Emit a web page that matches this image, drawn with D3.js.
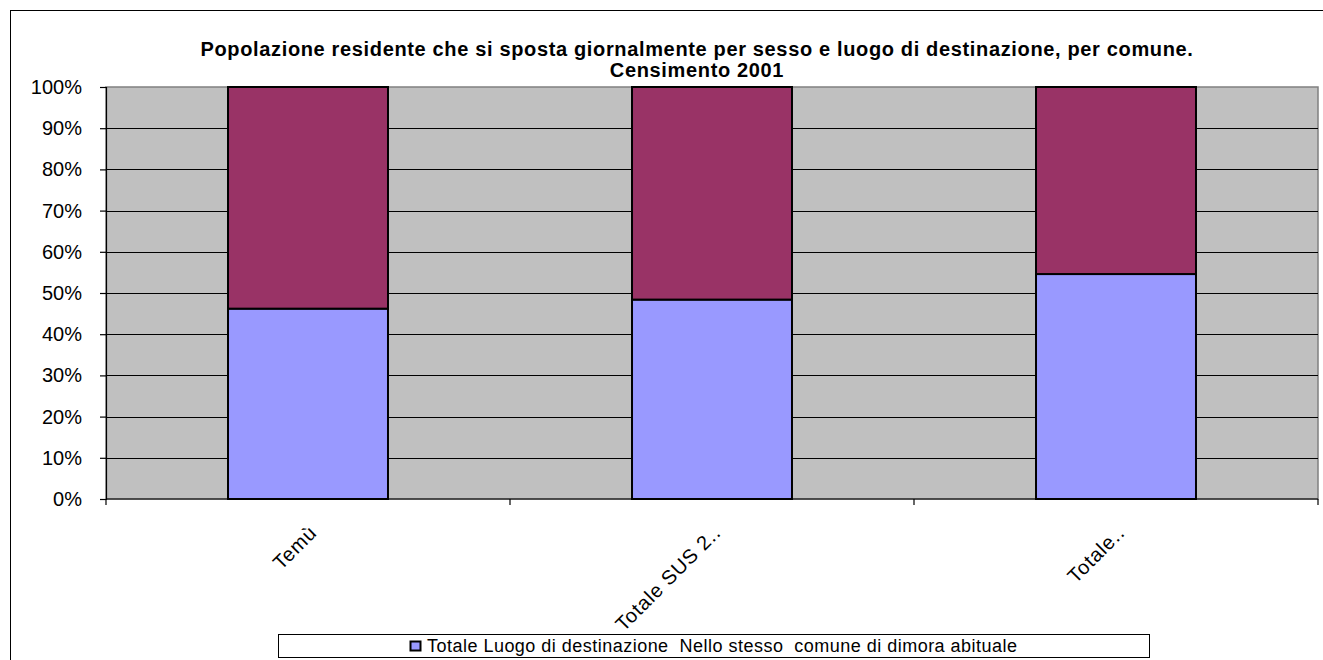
<!DOCTYPE html>
<html>
<head>
<meta charset="utf-8">
<script src="https://cdn.jsdelivr.net/npm/d3@7"></script>
<style>
  body { margin: 0; background: #fff; }
  svg { display: block; font-family: "Liberation Sans", Arial, sans-serif; }
</style>
</head>
<body>
<svg id="chart"></svg>
<script>
// data (share of residents, %)
const categories = ["Temù", "Totale SUS 2..", "Totale.."];
const seriesNames = [
    "Totale Luogo di destinazione  Nello stesso  comune di dimora abituale",
    "Totale Luogo di destinazione  Fuori del comune di dimora abituale"
];
const sameComune = [46.2, 48.4, 54.6];
const otherComune = [53.8, 51.6, 45.4];
const yTicks = [0, 10, 20, 30, 40, 50, 60, 70, 80, 90, 100];
const titleLines = [
    "Popolazione residente che si sposta giornalmente per sesso e luogo di destinazione, per comune.",
    "Censimento 2001"
];
const colors = ["#9999FF", "#993366"];

const width = 1323;
const height = 660;
const PLOT_LEFT = 106, PLOT_RIGHT = 1318, PLOT_TOP = 87, PLOT_BOTTOM = 499;

const svg = d3.select("#chart").attr("width", width).attr("height", height);

// outer chart frame (right and bottom run off the picture)
svg.append("rect")
    .attr("x", 10.5).attr("y", 10.5)
    .attr("width", width + 20).attr("height", height + 20)
    .attr("fill", "#fff").attr("stroke", "#000").attr("stroke-width", 1);

const x = d3.scaleBand().domain(categories).range([PLOT_LEFT, PLOT_RIGHT]).paddingInner(0.604).paddingOuter(0.302);
const y = d3.scaleLinear().domain([0, 100]).range([PLOT_BOTTOM, PLOT_TOP]);

// plot area
svg.append("rect")
    .attr("x", PLOT_LEFT).attr("y", PLOT_TOP)
    .attr("width", PLOT_RIGHT - PLOT_LEFT).attr("height", PLOT_BOTTOM - PLOT_TOP)
    .attr("fill", "#C0C0C0").attr("stroke", "#808080").attr("stroke-width", 1.5);

// gridlines
svg.append("g")
    .selectAll("line")
    .data(yTicks.filter(d => d > 0 && d < 100))
    .enter().append("line")
    .attr("x1", PLOT_LEFT).attr("x2", PLOT_RIGHT)
    .attr("y1", d => Math.round(y(d)) + 0.5).attr("y2", d => Math.round(y(d)) + 0.5)
    .attr("stroke", "#000").attr("stroke-width", 1.2);

// stacked bars
const stacked = d3.stack().keys([0, 1])(categories.map((c, i) => [sameComune[i], otherComune[i]]));
svg.append("g")
    .selectAll("g")
    .data(stacked)
    .enter().append("g")
    .attr("fill", (d, i) => colors[i])
    .selectAll("rect")
    .data(d => d)
    .enter().append("rect")
    .attr("x", (d, i) => x(categories[i]))
    .attr("y", d => y(d[1]))
    .attr("width", x.bandwidth())
    .attr("height", d => y(d[0]) - y(d[1]))
    .attr("stroke", "#000").attr("stroke-width", 2);

// y axis
const yAxis = svg.append("g")
    .attr("transform", `translate(${PLOT_LEFT},0)`)
    .call(d3.axisLeft(y).tickValues(yTicks).tickSize(6).tickPadding(18).tickFormat(d => d + "%"));
yAxis.select(".domain").attr("stroke", "#000").attr("stroke-width", 1.2);
yAxis.selectAll(".tick line").attr("stroke", "#000").attr("stroke-width", 1.2);
yAxis.selectAll("text").attr("font-size", 20).attr("fill", "#000")
    .attr("font-family", "'Liberation Sans', Arial, sans-serif");

// x axis with ticks between categories
const xAxisG = svg.append("g").attr("transform", `translate(0,${PLOT_BOTTOM})`);
xAxisG.append("line")
    .attr("x1", PLOT_LEFT).attr("x2", PLOT_RIGHT)
    .attr("stroke", "#000").attr("stroke-width", 1.2);
const step = x.step();
xAxisG.selectAll("line.tk")
    .data(d3.range(categories.length + 1))
    .enter().append("line")
    .attr("class", "tk")
    .attr("x1", i => PLOT_LEFT + i * step).attr("x2", i => PLOT_LEFT + i * step)
    .attr("y1", 0).attr("y2", 6)
    .attr("stroke", "#000").attr("stroke-width", 1.2);
xAxisG.selectAll("text")
    .data(categories)
    .enter().append("text")
    .attr("transform", d => `translate(${x(d) + x.bandwidth() / 2 + 10},35) rotate(-45)`)
    .attr("text-anchor", "end")
    .attr("font-size", 20)
    .attr("letter-spacing", 0.8)
    .attr("fill", "#000")
    .text(d => d);

// title
const title = svg.append("text")
    .attr("text-anchor", "middle")
    .attr("font-size", 20)
    .attr("font-weight", "bold")
    .attr("fill", "#000")
    .attr("letter-spacing", 0.65);
title.selectAll("tspan")
    .data(titleLines)
    .enter().append("tspan")
    .attr("x", 697)
    .attr("y", (d, i) => 56 + i * 21)
    .text(d => d);

// legend: one centred entry in a wide box
const legend = svg.append("g").attr("transform", "translate(278,634)");
legend.append("rect")
    .attr("x", 0.5).attr("y", 0.5).attr("width", 871).attr("height", 23)
    .attr("fill", "#fff").attr("stroke", "#000").attr("stroke-width", 1);
const item = legend.selectAll("g")
    .data(seriesNames.slice(0, 1))
    .enter().append("g")
    .attr("transform", "translate(132,0)");
item.append("rect")
    .attr("x", 0.5).attr("y", 7.5).attr("width", 10).attr("height", 9)
    .attr("fill", (d, i) => colors[i]).attr("stroke", "#000").attr("stroke-width", 2);
item.append("text")
    .attr("x", 17).attr("y", 18)
    .attr("font-size", 18)
    .attr("fill", "#000")
    .attr("textLength", 590)
    .attr("lengthAdjust", "spacing")
    .style("white-space", "pre")
    .text(d => d);
</script>
</body>
</html>
